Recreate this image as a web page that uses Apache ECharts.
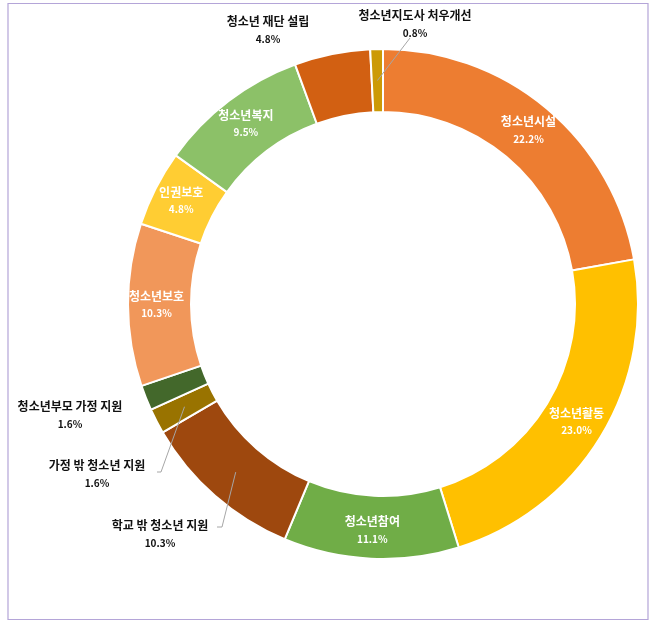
<!DOCTYPE html>
<html><head><meta charset="utf-8">
<script src="https://cdn.jsdelivr.net/npm/echarts@6/dist/echarts.min.js"></script>
<style>html,body{margin:0;padding:0;background:#fff}#c{width:650px;height:621px}</style>
</head><body><div id="c"></div>
<script>
const categories = ['청소년시설','청소년활동','청소년참여','학교 밖 청소년 지원','가정 밖 청소년 지원','청소년부모 가정 지원','청소년보호','인권보호','청소년복지','청소년 재단 설립','청소년지도사 처우개선'];
const percents = [22.2, 23.0, 11.1, 10.3, 1.6, 1.6, 10.3, 4.8, 9.5, 4.8, 0.8];
const colors = ['#ED7D31','#FFC000','#70AD47','#9E480E','#997300','#43682B','#F1975A','#FFCD33','#8CC168','#D26012','#CC9A06'];

// outside label placement (label centre) and leader line start, by category
const outsideLabels = {
  '학교 밖 청소년 지원': {pos:[160,534], line:[[217,527],[222,527]]},
  '가정 밖 청소년 지원': {pos:[97,474], line:[[157,472],[161,472]]},
  '청소년부모 가정 지원': {pos:[70,415], line:null},
  '청소년 재단 설립': {pos:[268,30], line:null},
  '청소년지도사 처우개선': {pos:[415,24], line:[[410,38]]}
};
const CX = 383, CY = 304, R0 = 192, R1 = 255;
const total = percents.reduce((a,b)=>a+b,0);
const FONT = 'Noto Sans CJK KR';

const data = categories.map((n,i)=>{
  const outside = !!outsideLabels[n];
  const c = outside ? '#111' : '#fff';
  return {
    name:n, value:percents[i],
    itemStyle:{color:colors[i]},
    label: {
      position: outside ? 'outside' : 'inside',
      formatter: p => '{n|'+p.name+'}\n{v|'+p.value.toFixed(1)+'%}',
      rich:{n:{fontSize:12,fontWeight:'bold',color:c,lineHeight:outside?18:17,fontFamily:FONT},
            v:{fontSize:10,fontWeight:'bold',color:c,lineHeight:outside?18:17,fontFamily:FONT}}
    },
    labelLine: {show:false}
  };
});

// cumulative mid angles -> leader lines drawn to slice mid-radius
const midAngles = [];
let acc = 0;
percents.forEach(v=>{ midAngles.push(90 - (acc + v/2)/total*360); acc += v; });
const leaderGraphics = [];
categories.forEach((n,i)=>{
  const o = outsideLabels[n];
  if(!o || !o.line) return;
  const a = midAngles[i]*Math.PI/180, rm = (R0+R1)/2;
  const end = [CX + rm*Math.cos(a), CY - rm*Math.sin(a)];
  leaderGraphics.push({type:'polyline', z:100, silent:true,
    shape:{points:o.line.concat([end])}, style:{stroke:'#A6A6A6', lineWidth:1, fill:null}});
});

const chart = echarts.init(document.getElementById('c'), null, {renderer:'canvas'});
chart.setOption({
  animation:false,
  graphic:[{type:'rect', shape:{x:8,y:3.5,width:640,height:616}, style:{fill:'none',stroke:'#B4A5D8',lineWidth:1.2}, silent:true}].concat(leaderGraphics),
  series:[{
    type:'pie', center:[CX,CY], radius:[R0,R1], startAngle:90, clockwise:true,
    avoidLabelOverlap:false, minAngle:0,
    itemStyle:{borderColor:'#fff',borderWidth:2},
    data:data,
    labelLayout: function(params){
      const o = outsideLabels[categories[params.dataIndex]];
      if(!o) return {};
      return {x:o.pos[0], y:o.pos[1], align:'center', verticalAlign:'middle'};
    }
  }]
});
</script></body></html>
